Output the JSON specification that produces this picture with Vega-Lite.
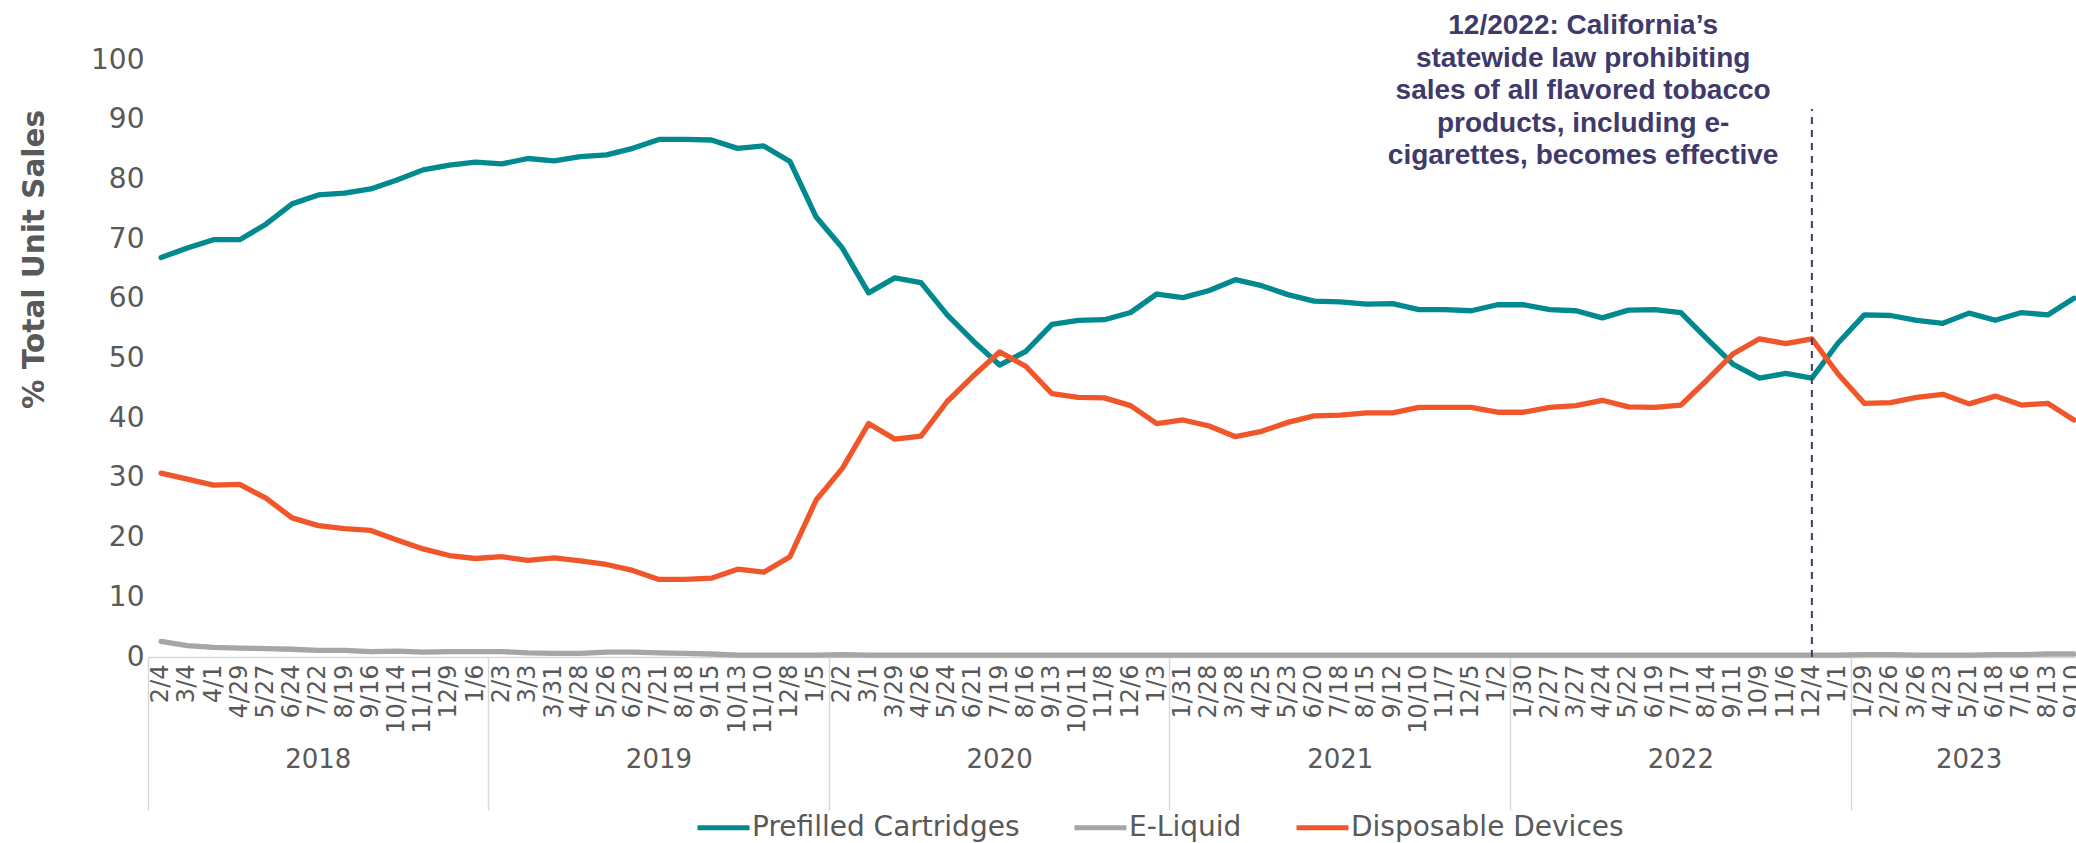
{
  "$schema": "https://vega.github.io/schema/vega-lite/v6.json",
  "width": 1928,
  "height": 597,
  "autosize": {"type": "none"},
  "padding": {"left": 148, "top": 60, "right": 0, "bottom": 186},
  "background": "white",
  "config": {
    "view": {"stroke": null},
    "font": "DejaVu Sans",
    "axis": {"grid": false, "labelColor": "#595959", "titleColor": "#595959", "labelFont": "DejaVu Sans", "labelBound": false, "labelFlush": false}
  },
  "data": {"values": [
    {"week": "2018-02-04", "Prefilled Cartridges": 66.9, "E-Liquid": 2.6, "Disposable Devices": 30.8},
    {"week": "2018-03-04", "Prefilled Cartridges": 68.5, "E-Liquid": 1.9, "Disposable Devices": 29.8},
    {"week": "2018-04-01", "Prefilled Cartridges": 69.9, "E-Liquid": 1.6, "Disposable Devices": 28.8},
    {"week": "2018-04-29", "Prefilled Cartridges": 69.9, "E-Liquid": 1.5, "Disposable Devices": 28.9},
    {"week": "2018-05-27", "Prefilled Cartridges": 72.5, "E-Liquid": 1.4, "Disposable Devices": 26.6},
    {"week": "2018-06-24", "Prefilled Cartridges": 75.9, "E-Liquid": 1.3, "Disposable Devices": 23.3},
    {"week": "2018-07-22", "Prefilled Cartridges": 77.4, "E-Liquid": 1.1, "Disposable Devices": 22.0},
    {"week": "2018-08-19", "Prefilled Cartridges": 77.7, "E-Liquid": 1.1, "Disposable Devices": 21.5},
    {"week": "2018-09-16", "Prefilled Cartridges": 78.4, "E-Liquid": 0.9, "Disposable Devices": 21.2},
    {"week": "2018-10-14", "Prefilled Cartridges": 79.9, "E-Liquid": 1.0, "Disposable Devices": 19.6},
    {"week": "2018-11-11", "Prefilled Cartridges": 81.6, "E-Liquid": 0.8, "Disposable Devices": 18.1},
    {"week": "2018-12-09", "Prefilled Cartridges": 82.4, "E-Liquid": 0.9, "Disposable Devices": 17.0},
    {"week": "2019-01-06", "Prefilled Cartridges": 82.9, "E-Liquid": 0.9, "Disposable Devices": 16.5},
    {"week": "2019-02-03", "Prefilled Cartridges": 82.6, "E-Liquid": 0.9, "Disposable Devices": 16.8},
    {"week": "2019-03-03", "Prefilled Cartridges": 83.5, "E-Liquid": 0.7, "Disposable Devices": 16.2},
    {"week": "2019-03-31", "Prefilled Cartridges": 83.1, "E-Liquid": 0.6, "Disposable Devices": 16.6},
    {"week": "2019-04-28", "Prefilled Cartridges": 83.8, "E-Liquid": 0.6, "Disposable Devices": 16.1},
    {"week": "2019-05-26", "Prefilled Cartridges": 84.1, "E-Liquid": 0.8, "Disposable Devices": 15.5},
    {"week": "2019-06-23", "Prefilled Cartridges": 85.2, "E-Liquid": 0.8, "Disposable Devices": 14.5},
    {"week": "2019-07-21", "Prefilled Cartridges": 86.7, "E-Liquid": 0.7, "Disposable Devices": 13.0},
    {"week": "2019-08-18", "Prefilled Cartridges": 86.7, "E-Liquid": 0.6, "Disposable Devices": 13.0},
    {"week": "2019-09-15", "Prefilled Cartridges": 86.6, "E-Liquid": 0.5, "Disposable Devices": 13.2},
    {"week": "2019-10-13", "Prefilled Cartridges": 85.2, "E-Liquid": 0.3, "Disposable Devices": 14.7},
    {"week": "2019-11-10", "Prefilled Cartridges": 85.6, "E-Liquid": 0.3, "Disposable Devices": 14.2},
    {"week": "2019-12-08", "Prefilled Cartridges": 83.0, "E-Liquid": 0.3, "Disposable Devices": 16.8},
    {"week": "2020-01-05", "Prefilled Cartridges": 73.7, "E-Liquid": 0.3, "Disposable Devices": 26.3},
    {"week": "2020-02-02", "Prefilled Cartridges": 68.5, "E-Liquid": 0.4, "Disposable Devices": 31.6},
    {"week": "2020-03-01", "Prefilled Cartridges": 61.0, "E-Liquid": 0.3, "Disposable Devices": 39.1},
    {"week": "2020-03-29", "Prefilled Cartridges": 63.5, "E-Liquid": 0.3, "Disposable Devices": 36.5},
    {"week": "2020-04-26", "Prefilled Cartridges": 62.7, "E-Liquid": 0.3, "Disposable Devices": 37.0},
    {"week": "2020-05-24", "Prefilled Cartridges": 57.3, "E-Liquid": 0.3, "Disposable Devices": 42.8},
    {"week": "2020-06-21", "Prefilled Cartridges": 52.9, "E-Liquid": 0.3, "Disposable Devices": 47.1},
    {"week": "2020-07-19", "Prefilled Cartridges": 48.9, "E-Liquid": 0.3, "Disposable Devices": 51.1},
    {"week": "2020-08-16", "Prefilled Cartridges": 51.2, "E-Liquid": 0.3, "Disposable Devices": 48.7},
    {"week": "2020-09-13", "Prefilled Cartridges": 55.7, "E-Liquid": 0.3, "Disposable Devices": 44.1},
    {"week": "2020-10-11", "Prefilled Cartridges": 56.4, "E-Liquid": 0.3, "Disposable Devices": 43.5},
    {"week": "2020-11-08", "Prefilled Cartridges": 56.5, "E-Liquid": 0.3, "Disposable Devices": 43.4},
    {"week": "2020-12-06", "Prefilled Cartridges": 57.7, "E-Liquid": 0.3, "Disposable Devices": 42.1},
    {"week": "2021-01-03", "Prefilled Cartridges": 60.8, "E-Liquid": 0.3, "Disposable Devices": 39.1},
    {"week": "2021-01-31", "Prefilled Cartridges": 60.2, "E-Liquid": 0.3, "Disposable Devices": 39.7},
    {"week": "2021-02-28", "Prefilled Cartridges": 61.4, "E-Liquid": 0.3, "Disposable Devices": 38.7},
    {"week": "2021-03-28", "Prefilled Cartridges": 63.2, "E-Liquid": 0.3, "Disposable Devices": 36.9},
    {"week": "2021-04-25", "Prefilled Cartridges": 62.2, "E-Liquid": 0.3, "Disposable Devices": 37.8},
    {"week": "2021-05-23", "Prefilled Cartridges": 60.7, "E-Liquid": 0.3, "Disposable Devices": 39.3},
    {"week": "2021-06-20", "Prefilled Cartridges": 59.6, "E-Liquid": 0.3, "Disposable Devices": 40.4},
    {"week": "2021-07-18", "Prefilled Cartridges": 59.5, "E-Liquid": 0.3, "Disposable Devices": 40.5},
    {"week": "2021-08-15", "Prefilled Cartridges": 59.1, "E-Liquid": 0.3, "Disposable Devices": 40.9},
    {"week": "2021-09-12", "Prefilled Cartridges": 59.2, "E-Liquid": 0.3, "Disposable Devices": 40.9},
    {"week": "2021-10-10", "Prefilled Cartridges": 58.2, "E-Liquid": 0.3, "Disposable Devices": 41.8},
    {"week": "2021-11-07", "Prefilled Cartridges": 58.2, "E-Liquid": 0.3, "Disposable Devices": 41.8},
    {"week": "2021-12-05", "Prefilled Cartridges": 58.0, "E-Liquid": 0.3, "Disposable Devices": 41.8},
    {"week": "2022-01-02", "Prefilled Cartridges": 59.0, "E-Liquid": 0.3, "Disposable Devices": 41.0},
    {"week": "2022-01-30", "Prefilled Cartridges": 59.0, "E-Liquid": 0.3, "Disposable Devices": 41.0},
    {"week": "2022-02-27", "Prefilled Cartridges": 58.2, "E-Liquid": 0.3, "Disposable Devices": 41.8},
    {"week": "2022-03-27", "Prefilled Cartridges": 58.0, "E-Liquid": 0.3, "Disposable Devices": 42.1},
    {"week": "2022-04-24", "Prefilled Cartridges": 56.8, "E-Liquid": 0.3, "Disposable Devices": 43.0},
    {"week": "2022-05-22", "Prefilled Cartridges": 58.1, "E-Liquid": 0.3, "Disposable Devices": 41.9},
    {"week": "2022-06-19", "Prefilled Cartridges": 58.2, "E-Liquid": 0.3, "Disposable Devices": 41.8},
    {"week": "2022-07-17", "Prefilled Cartridges": 57.7, "E-Liquid": 0.3, "Disposable Devices": 42.2},
    {"week": "2022-08-14", "Prefilled Cartridges": 53.3, "E-Liquid": 0.3, "Disposable Devices": 46.4},
    {"week": "2022-09-11", "Prefilled Cartridges": 49.0, "E-Liquid": 0.3, "Disposable Devices": 50.8},
    {"week": "2022-10-09", "Prefilled Cartridges": 46.7, "E-Liquid": 0.3, "Disposable Devices": 53.3},
    {"week": "2022-11-06", "Prefilled Cartridges": 47.5, "E-Liquid": 0.3, "Disposable Devices": 52.5},
    {"week": "2022-12-04", "Prefilled Cartridges": 46.7, "E-Liquid": 0.3, "Disposable Devices": 53.3},
    {"week": "2023-01-01", "Prefilled Cartridges": 52.6, "E-Liquid": 0.3, "Disposable Devices": 47.4},
    {"week": "2023-01-29", "Prefilled Cartridges": 57.3, "E-Liquid": 0.4, "Disposable Devices": 42.5},
    {"week": "2023-02-26", "Prefilled Cartridges": 57.2, "E-Liquid": 0.4, "Disposable Devices": 42.6},
    {"week": "2023-03-26", "Prefilled Cartridges": 56.4, "E-Liquid": 0.3, "Disposable Devices": 43.5},
    {"week": "2023-04-23", "Prefilled Cartridges": 55.9, "E-Liquid": 0.3, "Disposable Devices": 44.0},
    {"week": "2023-05-21", "Prefilled Cartridges": 57.6, "E-Liquid": 0.3, "Disposable Devices": 42.4},
    {"week": "2023-06-18", "Prefilled Cartridges": 56.4, "E-Liquid": 0.4, "Disposable Devices": 43.7},
    {"week": "2023-07-16", "Prefilled Cartridges": 57.7, "E-Liquid": 0.4, "Disposable Devices": 42.2},
    {"week": "2023-08-13", "Prefilled Cartridges": 57.3, "E-Liquid": 0.5, "Disposable Devices": 42.5},
    {"week": "2023-09-10", "Prefilled Cartridges": 60.1, "E-Liquid": 0.5, "Disposable Devices": 39.7}
  ]},
  "layer": [
    {
      "mark": {"type": "point", "opacity": 0},
      "encoding": {
        "x": {"field": "week", "type": "ordinal",
          "axis": {"orient": "bottom", "title": null, "values": ["2018-02-04", "2019-02-03", "2020-02-02", "2021-01-31", "2022-01-30", "2023-01-29"],
            "labels": false, "domain": false, "ticks": true, "tickSize": 153, "tickColor": "#d9d9d9", "tickWidth": 1.5, "bandPosition": 0, "tickExtra": false}}
      }
    },
    {
      "mark": {"type": "point", "opacity": 0},
      "encoding": {
        "x": {"field": "week", "type": "ordinal",
          "axis": {"orient": "bottom", "title": null, "values": ["2018-07-22", "2019-07-21", "2020-07-19", "2021-07-18", "2022-07-17", "2023-05-21"],
            "labelExpr": "substring(datum.value, 0, 4)", "labelFontSize": 26, "labelPadding": 89, "labelAngle": 0, "labelAlign": "center",
            "ticks": false, "domain": false}}
      }
    },
    {
      "transform": [{"fold": ["Prefilled Cartridges", "E-Liquid", "Disposable Devices"], "as": ["series", "pct"]}],
      "mark": {"type": "line", "strokeWidth": 5.3, "strokeCap": "round", "strokeJoin": "round"},
      "encoding": {
        "x": {"field": "week", "type": "ordinal", "bandPosition": 0.5,
          "scale": {"type": "band", "paddingInner": 0, "paddingOuter": 0, "range": [0, 1939]},
          "axis": {"orient": "bottom", "title": null,
            "labelExpr": "toNumber(substring(datum.value, 5, 7)) + '/' + toNumber(substring(datum.value, 8, 10))",
            "labelAngle": 270, "labelFontSize": 24, "labelPadding": 7, "labelOverlap": false, "ticks": false,
            "domain": true, "domainColor": "#d9d9d9", "domainWidth": 1.5}},
        "y": {"field": "pct", "type": "quantitative",
          "scale": {"domain": [0, 100], "nice": false},
          "axis": {"orient": "left", "title": "% Total Unit Sales", "values": [0, 10, 20, 30, 40, 50, 60, 70, 80, 90, 100],
            "labelFontSize": 28, "labelPadding": 4, "domain": false, "ticks": false,
            "titleFont": "DejaVu Sans", "titleFontWeight": "bold", "titleFontSize": 29.5,
            "titleAngle": 270, "titleBaseline": "alphabetic", "titleAlign": "center", "titleX": -105, "titleY": 199}},
        "color": {"field": "series", "type": "nominal",
          "scale": {"domain": ["Prefilled Cartridges", "E-Liquid", "Disposable Devices"], "range": ["#00898E", "#A6A6A6", "#F0562A"]},
          "legend": {"title": null, "orient": "none", "legendX": 547, "legendY": 739, "direction": "horizontal",
            "symbolType": "stroke", "symbolSize": 2704, "symbolStrokeWidth": 5, "labelFontSize": 28, "labelFont": "DejaVu Sans",
            "labelColor": "#595959", "labelLimit": 600, "columnPadding": 44, "labelOffset": 0, "padding": 0}}
      }
    },
    {
      "data": {"values": [{}]},
      "mark": {"type": "rule", "color": "#403A6B", "strokeWidth": 2, "strokeDash": [7, 6]},
      "encoding": {
        "x": {"datum": "2022-12-04", "type": "ordinal", "bandPosition": 0.5, "axis": null},
        "y": {"datum": 0, "type": "quantitative", "axis": null},
        "y2": {"datum": 91.8}
      }
    },
    {
      "data": {"values": [{}]},
      "mark": {"type": "text", "text": ["12/2022: California\u2019s", "statewide law prohibiting", "sales of all flavored tobacco", "products, including e-", "cigarettes, becomes effective"],
        "font": "Liberation Sans", "fontWeight": "bold", "fontSize": 28, "lineHeight": 32.5, "align": "center", "baseline": "top", "color": "#403A6B"},
      "encoding": {
        "x": {"datum": "2022-03-27", "type": "ordinal", "bandPosition": 0.77, "axis": null},
        "y": {"datum": 108, "type": "quantitative", "axis": null}
      }
    }
  ],
  "resolve": {"scale": {"x": "shared", "y": "shared"}, "axis": {"x": "independent", "y": "independent"}}
}
